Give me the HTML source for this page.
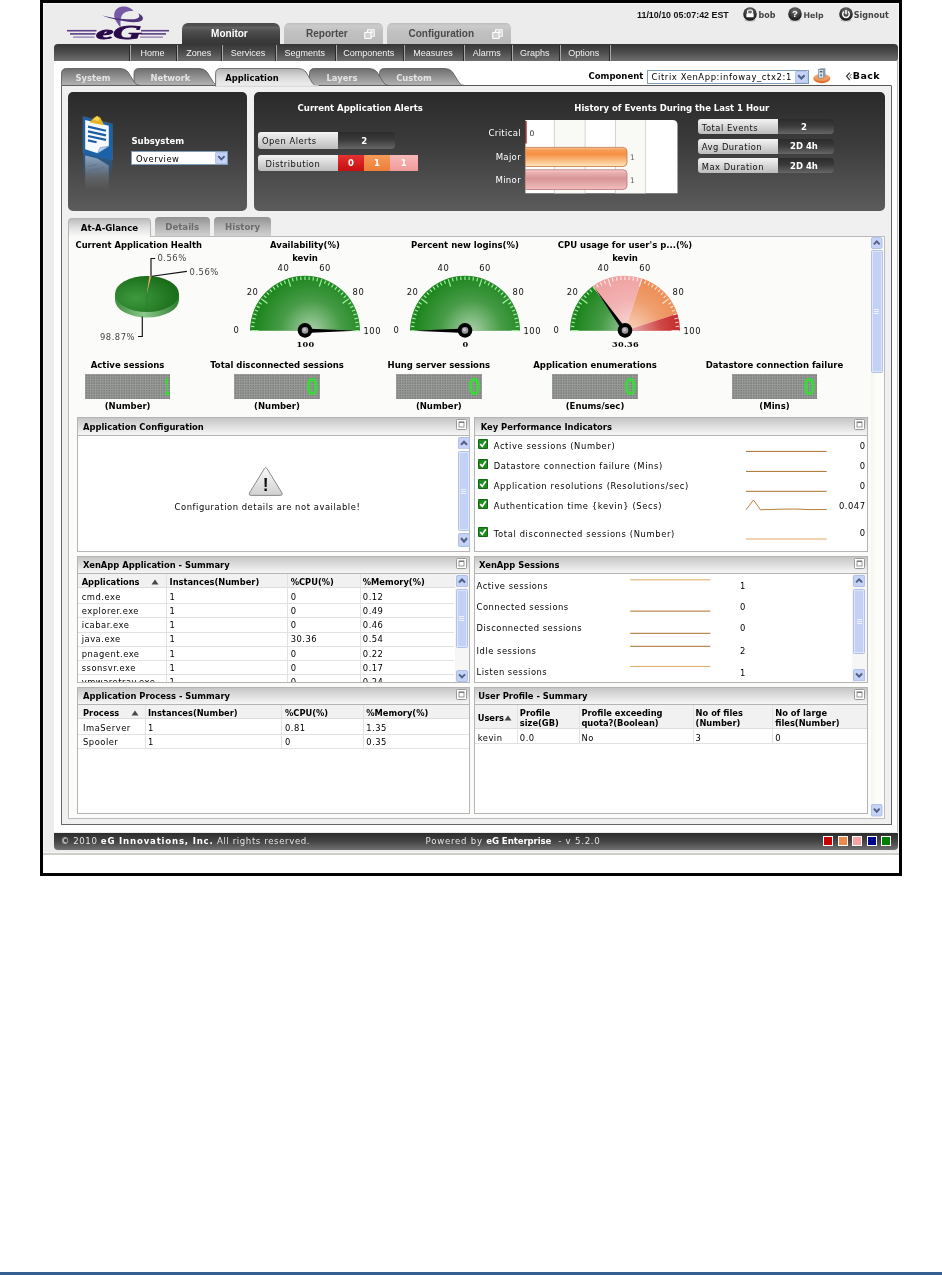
<!DOCTYPE html><html><head><meta charset="utf-8"><title>eG Enterprise</title><style>
html,body{margin:0;padding:0;background:#fff;}
#pg{position:relative;width:942px;height:1275px;overflow:hidden;background:#fff;font-family:"DejaVu Sans","Liberation Sans",sans-serif;font-size:8.4px;color:#000;}
#pg div,#pg span,#pg svg{position:absolute;box-sizing:border-box;}
.t{white-space:nowrap;line-height:12px;height:12px;letter-spacing:.5px;}
.b{white-space:nowrap;line-height:12px;height:12px;font-weight:bold;font-size:8.5px;letter-spacing:0;}
.a{font-family:"Liberation Sans",sans-serif;white-space:nowrap;line-height:12px;height:12px;letter-spacing:0;}
.c{text-align:center;}
.r{text-align:right;}
.ph{background:linear-gradient(#c6c6c6,#dcdcdc 45%,#f6f6f6);border:1px solid #b4b4b4;}
.pb{background:#fff;border:1px solid #b4b4b4;border-top:none;}
.mx{width:10px;height:10px;border:1px solid #888;background:#fff;}
.mx i{position:absolute;left:2px;top:2px;width:4px;height:4px;border:1px solid #999;border-top-width:2px;display:block;}
.sb{background:#c3d1f6;border:1px solid #fff;outline:1px solid #b0bde0;outline-offset:-2px;}
.lbl{background:linear-gradient(#f4f4f4,#d2d2d2 60%,#bcbcbc);border-radius:3px 0 0 3px;}
.val{background:linear-gradient(#2c2c2c,#3a3a3a 45%,#666);border-radius:0 4px 4px 0;color:#fff;}
.led{background-color:#7e7e7e;background-image:linear-gradient(#9c9c9c 1px,transparent 1px),linear-gradient(90deg,#9c9c9c 1px,transparent 1px);background-size:2.5px 2.5px;}
.ledg{background-image:linear-gradient(rgba(150,160,150,.35) 1px,transparent 1px),linear-gradient(90deg,rgba(150,160,150,.35) 1px,transparent 1px);background-size:2.5px 2.5px;}
.dg{font-family:"Liberation Sans",sans-serif;font-weight:bold;color:#22e822;-webkit-text-stroke:.3px #22e822;font-size:23px;line-height:24px;height:24px;width:14px;text-align:center;transform-origin:100% 50%;}
.th{background:#f1f1f1;border-bottom:1px solid #ddd;}
.vl{background:#e2e2e2;width:1px;}
.hl{background:#e2e2e2;height:1px;}
</style></head><body><div id="pg">
<div style="left:40px;top:0px;width:862px;height:876px;border:3px solid #000;background:#fff;"></div>
<div style="left:43px;top:3px;width:856px;height:850px;background:#ececec;border:1px solid #f6f6f6;"></div>
<div style="left:43px;top:853px;width:856px;height:2px;background:#cfcfc6;"></div>
<div style="left:54px;top:50px;width:844px;height:782px;background:#fff;"></div>
<svg style="left:60px;top:2px" width="120" height="42" viewBox="60 2 120 42">
<g fill="none" stroke="#5a3f86" stroke-width="1.6">
<path d="M67,30.7H96.5"/><path d="M70,33.9H95.5"/><path d="M73,37.1H94.5" stroke-width="1.1" stroke="#8068a8"/>
<path d="M141,30.7H169"/><path d="M140.5,33.9H166"/><path d="M140,37.1H163" stroke-width="1.1" stroke="#8068a8"/>
</g>
<path d="M133.4,11 C130.5,6.4 122,5.2 117.4,8.4 C113.2,11.4 113.6,17 116,21 C117.4,23.5 119.2,26 120.7,27.8 C120.3,23.5 120.2,19.6 121.4,16.4 C122.8,12.6 127.2,10.4 133.4,11Z" fill="#7558a6"/>
<path d="M102,15.6 C112,19.3 128,23 137.5,22 C144.5,21.2 145,16.3 138,13.2 C141.2,17 138.5,19 132,19.3 C124,19.6 112,18 102,15.6Z" fill="#4f347a"/>
<text x="96" y="38.8" font-family="Liberation Serif,serif" font-weight="bold" font-style="italic" font-size="19.5" fill="#2b0a4a" stroke="#2b0a4a" stroke-width="0.9" textLength="45.5" lengthAdjust="spacingAndGlyphs">eG</text>
</svg>
<div style="left:181.5px;top:23px;width:98.5px;height:21.5px;background:linear-gradient(#4c4c4c,#505050 12%,#626262 20%,#4c4c4c 40%,#3c3c3c 75%,#363636);border-radius:6px 6px 0 0;"></div>
<div class="a c" style="left:180.2px;top:27.9px;width:98.5px;font-weight:bold;font-size:10px;color:#fff;">Monitor</div>
<div style="left:284px;top:23px;width:99.4px;height:21.5px;background:linear-gradient(#bebebe,#cbcbcb 14%,#c2c2c2 35%,#b9b9b9);border-radius:5px 5px 0 0;"></div>
<div class="a" style="left:306px;top:28px;font-weight:bold;font-size:10px;color:#4a4a4a;">Reporter</div>
<div style="left:387.4px;top:23px;width:123.6px;height:21.5px;background:linear-gradient(#bebebe,#cbcbcb 14%,#c2c2c2 35%,#b9b9b9);border-radius:5px 5px 0 0;"></div>
<div class="a" style="left:408.5px;top:28px;font-weight:bold;font-size:10px;color:#4a4a4a;">Configuration</div>
<svg style="left:363.5px;top:28.5px" width="11" height="11" viewBox="0 0 11 11"><rect x="3.6" y="0.8" width="6.6" height="6.4" fill="#c8c8c8" stroke="#fff" stroke-width="1.1"/><rect x="0.8" y="3.4" width="6.2" height="6" fill="#cfcfcf" stroke="#fff" stroke-width="1.1"/><path d="M5.6,5.2L8.4,2.6M6.4,2.4H8.6V4.6" stroke="#fff" stroke-width=".8" fill="none"/></svg>
<svg style="left:491.5px;top:28.5px" width="11" height="11" viewBox="0 0 11 11"><rect x="3.6" y="0.8" width="6.6" height="6.4" fill="#c8c8c8" stroke="#fff" stroke-width="1.1"/><rect x="0.8" y="3.4" width="6.2" height="6" fill="#cfcfcf" stroke="#fff" stroke-width="1.1"/><path d="M5.6,5.2L8.4,2.6M6.4,2.4H8.6V4.6" stroke="#fff" stroke-width=".8" fill="none"/></svg>
<div style="left:54px;top:44px;width:844px;height:17.4px;background:linear-gradient(#353535,#4a4a4a 45%,#6e6e6e);border-radius:4px 4px 2px 0;"></div>
<div style="left:129px;top:45px;width:1px;height:16px;background:#2a2a2a;"></div>
<div style="left:130px;top:45px;width:1px;height:16px;background:#a8a8a8;"></div>
<div style="left:176px;top:45px;width:1px;height:16px;background:#2a2a2a;"></div>
<div style="left:177px;top:45px;width:1px;height:16px;background:#a8a8a8;"></div>
<div style="left:221px;top:45px;width:1px;height:16px;background:#2a2a2a;"></div>
<div style="left:222px;top:45px;width:1px;height:16px;background:#a8a8a8;"></div>
<div style="left:275px;top:45px;width:1px;height:16px;background:#2a2a2a;"></div>
<div style="left:276px;top:45px;width:1px;height:16px;background:#a8a8a8;"></div>
<div style="left:335px;top:45px;width:1px;height:16px;background:#2a2a2a;"></div>
<div style="left:336px;top:45px;width:1px;height:16px;background:#a8a8a8;"></div>
<div style="left:403px;top:45px;width:1px;height:16px;background:#2a2a2a;"></div>
<div style="left:404px;top:45px;width:1px;height:16px;background:#a8a8a8;"></div>
<div style="left:463px;top:45px;width:1px;height:16px;background:#2a2a2a;"></div>
<div style="left:464px;top:45px;width:1px;height:16px;background:#a8a8a8;"></div>
<div style="left:511px;top:45px;width:1px;height:16px;background:#2a2a2a;"></div>
<div style="left:512px;top:45px;width:1px;height:16px;background:#a8a8a8;"></div>
<div style="left:559px;top:45px;width:1px;height:16px;background:#2a2a2a;"></div>
<div style="left:560px;top:45px;width:1px;height:16px;background:#a8a8a8;"></div>
<div style="left:609px;top:45px;width:1px;height:16px;background:#2a2a2a;"></div>
<div style="left:610px;top:45px;width:1px;height:16px;background:#a8a8a8;"></div>
<div class="a c" style="left:129.1px;top:46.8px;width:46.8px;font-size:9px;color:#f4f4f4;">Home</div>
<div class="a c" style="left:176.9px;top:46.8px;width:43.6px;font-size:9px;color:#f4f4f4;">Zones</div>
<div class="a c" style="left:221.5px;top:46.8px;width:53px;font-size:9px;color:#f4f4f4;">Services</div>
<div class="a c" style="left:275.5px;top:46.8px;width:58.5px;font-size:9px;color:#f4f4f4;">Segments</div>
<div class="a c" style="left:335px;top:46.8px;width:67.5px;font-size:9px;color:#f4f4f4;">Components</div>
<div class="a c" style="left:403.5px;top:46.8px;width:59px;font-size:9px;color:#f4f4f4;">Measures</div>
<div class="a c" style="left:463.5px;top:46.8px;width:46.5px;font-size:9px;color:#f4f4f4;">Alarms</div>
<div class="a c" style="left:511px;top:46.8px;width:47.5px;font-size:9px;color:#f4f4f4;">Graphs</div>
<div class="a c" style="left:559.5px;top:46.8px;width:48.6px;font-size:9px;color:#f4f4f4;">Options</div>
<div class="a" style="left:637px;top:8.5px;font-weight:bold;font-size:8.9px;color:#111;">11/10/10 05:07:42 EST</div>
<svg style="left:742.8px;top:6.5px" width="14" height="15" viewBox="0 0 14 15"><defs><radialGradient id="cguser" cx="50%" cy="30%" r="70%"><stop offset="0" stop-color="#777"/><stop offset="1" stop-color="#111"/></radialGradient></defs><ellipse cx="7" cy="13" rx="5.5" ry="1.5" fill="#bbb"/><circle cx="7" cy="7" r="6.8" fill="url(#cguser)"/><rect x="4.6" y="3" width="4.8" height="4" rx="1.6" fill="none" stroke="#fff" stroke-width="1.2"/><rect x="3.4" y="6.6" width="7.2" height="3.6" fill="#fff"/></svg>
<div class="b" style="left:758.6px;top:9.9px;font-size:8px;color:#444;">bob</div>
<svg style="left:788.3px;top:6.5px" width="14" height="15" viewBox="0 0 14 15"><defs><radialGradient id="cghelp" cx="50%" cy="30%" r="70%"><stop offset="0" stop-color="#777"/><stop offset="1" stop-color="#111"/></radialGradient></defs><ellipse cx="7" cy="13" rx="5.5" ry="1.5" fill="#bbb"/><circle cx="7" cy="7" r="6.8" fill="url(#cghelp)"/><text x="7" y="10.4" text-anchor="middle" font-family="Liberation Sans,sans-serif" font-weight="bold" font-size="9.5" fill="#fff">?</text></svg>
<div class="b" style="left:803.5px;top:9.9px;font-size:7.8px;color:#444;">Help</div>
<svg style="left:838.5px;top:6.5px" width="14" height="15" viewBox="0 0 14 15"><defs><radialGradient id="cgpower" cx="50%" cy="30%" r="70%"><stop offset="0" stop-color="#777"/><stop offset="1" stop-color="#111"/></radialGradient></defs><ellipse cx="7" cy="13" rx="5.5" ry="1.5" fill="#bbb"/><circle cx="7" cy="7" r="6.8" fill="url(#cgpower)"/><path d="M4.9,4.6 A3.3,3.3 0 1 0 9.1,4.6" fill="none" stroke="#fff" stroke-width="1.4"/><path d="M7,3V7.3" stroke="#fff" stroke-width="1.5"/></svg>
<div class="b" style="left:853.8px;top:9.9px;font-size:8px;color:#444;">Signout</div>
<div style="left:62px;top:86px;width:829px;height:738px;background:#f0f0f0;"></div>
<div style="left:897px;top:61px;width:1px;height:771px;background:#b8b8b8;"></div>
<svg style="left:54px;top:62px" width="844" height="30" viewBox="54 62 844 30"><defs><linearGradient id="tg" x1="0" y1="0" x2="0" y2="1"><stop offset="0" stop-color="#6e6e6e"/><stop offset="1" stop-color="#b4b4b4"/></linearGradient><linearGradient id="ta" x1="0" y1="0" x2="0" y2="1"><stop offset="0" stop-color="#b2b2b2"/><stop offset="0.5" stop-color="#dadada"/><stop offset="1" stop-color="#f0f0f0"/></linearGradient></defs><path d="M61.5,85.5H891.5" stroke="#555" stroke-width="1" fill="none"/><path d="M379.5,85.5 L379.5,73.5 Q379.5,68.5 384.5,68.5 L444.5,68.5 Q450.0,68.5 452.5,72.0 L459.0,82.5 Q461.0,85.5 464.5,85.5 Z" fill="url(#tg)" stroke="#555" stroke-width="0.8"/><path d="M309.5,85.5 L309.5,73.5 Q309.5,68.5 314.5,68.5 L369,68.5 Q374.5,68.5 377,72.0 L383.5,82.5 Q385.5,85.5 389,85.5 Z" fill="url(#tg)" stroke="#555" stroke-width="0.8"/><path d="M134,85.5 L134,73.5 Q134,68.5 139,68.5 L199,68.5 Q204.5,68.5 207,72.0 L213.5,82.5 Q215.5,85.5 219,85.5 Z" fill="url(#tg)" stroke="#555" stroke-width="0.8"/><path d="M61.5,85.5 L61.5,73.5 Q61.5,68.5 66.5,68.5 L120,68.5 Q125.5,68.5 128,72.0 L134.5,82.5 Q136.5,85.5 140,85.5 Z" fill="url(#tg)" stroke="#555" stroke-width="0.8"/><path d="M215.6,86.2 L215.6,73.5 Q215.6,68.5 220.6,68.5 L298,68.5 Q303.5,68.5 306,72.0 L312.5,83.2 Q314.5,86.2 318,86.2 Z" fill="url(#ta)" stroke="#666" stroke-width="0.9"/><path d="M216.1,86.1H318.5" stroke="#f0f0f0" stroke-width="1.5"/><text x="93" y="81.1" text-anchor="middle" font-family="DejaVu Sans,sans-serif" font-weight="bold" font-size="8.4" fill="#e4e4e4">System</text><text x="170.4" y="81.1" text-anchor="middle" font-family="DejaVu Sans,sans-serif" font-weight="bold" font-size="8.4" fill="#e4e4e4">Network</text><text x="252" y="81.1" text-anchor="middle" font-family="DejaVu Sans,sans-serif" font-weight="bold" font-size="8.4" fill="#000">Application</text><text x="342" y="81.1" text-anchor="middle" font-family="DejaVu Sans,sans-serif" font-weight="bold" font-size="8.4" fill="#e4e4e4">Layers</text><text x="414" y="81.1" text-anchor="middle" font-family="DejaVu Sans,sans-serif" font-weight="bold" font-size="8.4" fill="#e4e4e4">Custom</text></svg>
<div style="left:61px;top:85.5px;width:1px;height:739.5px;background:#666;"></div>
<div style="left:891px;top:85.5px;width:1px;height:739.5px;background:#666;"></div>
<div style="left:61px;top:824px;width:831px;height:1px;background:#666;"></div>
<div class="b" style="left:588.5px;top:70.3px;font-size:8.5px;color:#000;">Component</div>
<div style="left:647px;top:69.5px;width:161.6px;height:14.2px;background:#fff;border:1px solid #7f9db9;"></div>
<div class="t" style="left:651.5px;top:71.1px;font-size:8.4px;letter-spacing:.62px;width:140.5px;overflow:hidden;">Citrix XenApp:infoway_ctx2:14</div>
<svg style="left:794.8px;top:70.6px" width="12.8" height="12.2" viewBox="0 0 12 12" preserveAspectRatio="none"><rect x="0" y="0" width="12" height="12" rx="1.5" fill="#c6d3f7"/><rect x="0.5" y="0.5" width="11" height="11" rx="1.5" fill="none" stroke="#b4c4ee"/><path d="M3,4.2 L6,7.4 L9,4.2" fill="none" stroke="#4d6185" stroke-width="1.9"/></svg>
<svg style="left:812px;top:66px" width="20" height="19" viewBox="812 66 20 19"><defs><linearGradient id="od" x1="0" y1="0" x2="0" y2="1"><stop offset="0" stop-color="#f4a060"/><stop offset="1" stop-color="#de6a24"/></linearGradient></defs>
<ellipse cx="821.8" cy="78.6" rx="8.5" ry="4.6" fill="url(#od)"/><ellipse cx="821.8" cy="77.6" rx="7.4" ry="3.4" fill="#f2a468" opacity=".7"/>
<path d="M818.6,69.6 L820.4,68.2 L825.4,68.2 L825.4,76.6 L823.6,78 L818.6,78Z" fill="#8a9aa8"/><rect x="818.6" y="69.6" width="5" height="8.4" fill="#d8e0e8" stroke="#68788a" stroke-width=".5"/>
<rect x="819.8" y="71" width="2.6" height="1.4" fill="#4a5a6a"/><rect x="820.2" y="74.4" width="1.8" height="1.8" fill="#3a7ab8"/></svg>
<svg style="left:845px;top:71px" width="8" height="11" viewBox="0 0 8 11"><path d="M4.8,1.6 L1.6,5.3 L4.8,9" fill="none" stroke="#333" stroke-width="1.2"/><path d="M6.6,3 L4.6,5.3 L6.6,7.6" fill="none" stroke="#777" stroke-width="1"/></svg>
<div class="b" style="left:852.8px;top:69.9px;font-size:9.5px;color:#000;letter-spacing:.35px;">Back</div>
<div style="left:68.3px;top:92px;width:179.2px;height:119px;background:linear-gradient(#2a2a2a,#3c3c3c 45%,#5c5c5c);border-radius:5px;"></div>
<div style="left:253.8px;top:92px;width:631px;height:119px;background:linear-gradient(#2a2a2a,#3c3c3c 45%,#5c5c5c);border-radius:5px;"></div>
<svg style="left:78px;top:110px" width="40" height="84" viewBox="78 110 40 84">
<defs><linearGradient id="rf" x1="0" y1="0" x2="0" y2="1"><stop offset="0" stop-color="#b4c0d0" stop-opacity=".75"/><stop offset=".55" stop-color="#a0acbc" stop-opacity=".3"/><stop offset="1" stop-color="#9aa6b6" stop-opacity="0"/></linearGradient>
<linearGradient id="rb" x1="0" y1="0" x2="0" y2="1"><stop offset="0" stop-color="#1c62a8" stop-opacity=".9"/><stop offset="1" stop-color="#1c62a8" stop-opacity="0"/></linearGradient></defs>
<path d="M82.6,116 L112.8,123.6 L112.8,160.5 L82.6,152.8Z" fill="#5aa0e0" opacity=".35"/>
<path d="M83.4,116.8 L112.2,124.2 L112.2,160 L83.4,152.4Z" fill="#1c62a8"/>
<path d="M85.2,120 L108.8,125.8 L108.8,146.2 L97.5,153.2 L85.2,149.2Z" fill="#f6f9ff"/>
<path d="M97.5,153.2 L100.2,147.6 L108.8,146.2Z" fill="#bcd0e8" stroke="#4a86c4" stroke-width=".5"/>
<path d="M89.6,122.4 L93.6,118 L97,115.8 L100.2,117.6 L104.2,125.2Z" fill="#e9b424"/><path d="M93.5,119.5 L97,116.5 L99.6,118.6 L98,121Z" fill="#f8d858"/>
<g stroke="#1c5ea4" stroke-width="2.2"><path d="M88,126.6L106,130.8"/><path d="M88,131.4L106,135.4"/><path d="M88,136L106,139.9"/><path d="M88,140.4L96.6,142.3"/></g>
<path d="M83.4,152.4 L112.2,160 L112.2,178 L83.4,178Z" fill="url(#rb)"/>
<path d="M85.2,155.5 L97.5,158.6 L108.8,165.5 L108.8,190 L85.2,190Z" fill="url(#rf)"/>
<g stroke="#5a7088" stroke-width="1.6" opacity=".45"><path d="M88,166.4L96.6,164.6"/><path d="M88,170.6L104,167.6"/></g>
</svg>
<div class="b" style="left:131.5px;top:135px;color:#fff;font-size:8.5px;">Subsystem</div>
<div style="left:131px;top:150.7px;width:97.3px;height:14.3px;background:#fff;border:1px solid #7f9db9;"></div>
<div class="t" style="left:136px;top:152.6px;font-size:8.4px;">Overview</div>
<svg style="left:214.5px;top:151.8px" width="12.8" height="12" viewBox="0 0 12 12" preserveAspectRatio="none"><rect x="0" y="0" width="12" height="12" rx="1.5" fill="#c6d3f7"/><rect x="0.5" y="0.5" width="11" height="11" rx="1.5" fill="none" stroke="#b4c4ee"/><path d="M3,4.2 L6,7.4 L9,4.2" fill="none" stroke="#4d6185" stroke-width="1.9"/></svg>
<div class="b" style="left:297.6px;top:102px;color:#fff;">Current Application Alerts</div>
<div class="b" style="left:574.3px;top:102px;color:#fff;">History of Events During the Last 1 Hour</div>
<div class="lbl" style="left:257.6px;top:132px;width:80.4px;height:16.7px;"></div>
<div class="val" style="left:338px;top:132px;width:56.5px;height:16.7px;"></div>
<div class="t" style="left:262px;top:135.25px;color:#111;font-size:8.35px;">Open Alerts</div>
<div class="b c" style="left:338px;top:134.65px;width:52.5px;color:#fff;">2</div>
<div class="lbl" style="left:257.6px;top:155px;width:80.4px;height:16px;"></div>
<div class="val" style="left:338px;top:155px;width:0px;height:16px;"></div>
<div class="t" style="left:265.5px;top:157.9px;color:#111;font-size:8.35px;">Distribution</div>
<div style="left:338px;top:155px;width:26px;height:16px;background:linear-gradient(#e83030,#c41010);"></div>
<div class="b c" style="left:338px;top:157.3px;width:26px;color:#fff;">0</div>
<div style="left:364px;top:155px;width:26px;height:16px;background:linear-gradient(#f59a5a,#ec7f38);"></div>
<div class="b c" style="left:364px;top:157.3px;width:26px;color:#fff;">1</div>
<div style="left:390px;top:155px;width:27.6px;height:16px;background:linear-gradient(#f8b8b8,#f09a9a);"></div>
<div class="b c" style="left:390px;top:157.3px;width:27.6px;color:#fff;">1</div>
<div class="lbl" style="left:697.5px;top:119px;width:80.8px;height:15.3px;"></div>
<div class="val" style="left:778.3px;top:119px;width:55.3px;height:15.3px;"></div>
<div class="t" style="left:701.8px;top:121.55px;color:#111;font-size:8.35px;">Total Events</div>
<div class="b c" style="left:778.3px;top:120.95px;width:51.3px;color:#fff;">2</div>
<div class="lbl" style="left:697.5px;top:138.5px;width:80.8px;height:15.3px;"></div>
<div class="val" style="left:778.3px;top:138.5px;width:55.3px;height:15.3px;"></div>
<div class="t" style="left:701.8px;top:141.05px;color:#111;font-size:8.35px;">Avg Duration</div>
<div class="b c" style="left:778.3px;top:140.45px;width:51.3px;color:#fff;">2D 4h</div>
<div class="lbl" style="left:697.5px;top:158px;width:80.8px;height:15.3px;"></div>
<div class="val" style="left:778.3px;top:158px;width:55.3px;height:15.3px;"></div>
<div class="t" style="left:701.8px;top:160.55px;color:#111;font-size:8.35px;">Max Duration</div>
<div class="b c" style="left:778.3px;top:159.95px;width:51.3px;color:#fff;">2D 4h</div>
<svg style="left:486px;top:118px" width="196" height="78" viewBox="486 118 196 78">
<defs><linearGradient id="og" x1="0" y1="0" x2="0" y2="1"><stop offset="0" stop-color="#f8c69c"/><stop offset=".14" stop-color="#f79c54"/><stop offset=".36" stop-color="#f69044"/><stop offset="1" stop-color="#fee6bc"/></linearGradient>
<linearGradient id="pk" x1="0" y1="0" x2="0" y2="1"><stop offset="0" stop-color="#f6cece"/><stop offset=".16" stop-color="#e8aeae"/><stop offset=".45" stop-color="#d99696"/><stop offset="1" stop-color="#f2bebe"/></linearGradient></defs>
<path d="M525.4,120 H672.5 Q677.5,120 677.5,125 V193.3 H525.4Z" fill="#fff"/>
<rect x="554.4" y="120" width="30.8" height="73.3" fill="#f9f9f5"/><rect x="615.5" y="120" width="30.1" height="73.3" fill="#f9f9f5"/>
<g stroke="#c9c9c4" stroke-width="0.8"><path d="M554.4,120V193.3"/><path d="M585.2,120V193.3"/><path d="M615.5,120V193.3"/><path d="M645.6,120V193.3"/></g>
<path d="M525.9,121V143.5" stroke="#8c1010" stroke-width="1.4"/>
<path d="M525.4,147.4 H623 Q627,147.4 627,151.4 V162.5 Q627,166.5 623,166.5 H525.4Z" fill="url(#og)" stroke="#c88458" stroke-width=".9"/>
<path d="M525.4,169.8 H623 Q627,169.8 627,173.8 V185.5 Q627,189.5 623,189.5 H525.4Z" fill="url(#pk)" stroke="#c08080" stroke-width=".9"/>
<g font-family="DejaVu Sans,sans-serif" font-size="8.6" letter-spacing=".3">
<text x="521" y="136.2" text-anchor="end" fill="#fff">Critical</text><text x="521" y="160" text-anchor="end" fill="#fff">Major</text><text x="521" y="183.2" text-anchor="end" fill="#fff">Minor</text>
<text x="529.5" y="136" fill="#333" font-size="7.6">0</text><text x="630" y="160" fill="#666" font-size="7.6">1</text><text x="630" y="183" fill="#666" font-size="7.6">1</text></g>
</svg>
<div style="left:68.3px;top:235.5px;width:816.3px;height:583.3px;background:#fbfbf9;border:1px solid #bcbcbc;"></div>
<div style="left:68.3px;top:218px;width:82.3px;height:18.5px;background:linear-gradient(#bdbdbd,#dedede 45%,#fbfbf9);border:1px solid #b4b4b4;border-bottom:none;border-radius:4px 4px 0 0;"></div>
<div class="b c" style="left:68.3px;top:221.5px;width:82.3px;color:#000;font-size:8.6px;">At-A-Glance</div>
<div style="left:154.5px;top:217px;width:55.5px;height:18.5px;background:linear-gradient(#929292,#b4b4b4 50%,#d0d0d0);border-radius:4px 4px 0 0;"></div>
<div class="b c" style="left:154.5px;top:220.8px;width:55.5px;color:#6c6c6c;font-size:8.6px;">Details</div>
<div style="left:214.3px;top:217px;width:56.7px;height:18.5px;background:linear-gradient(#929292,#b4b4b4 50%,#d0d0d0);border-radius:4px 4px 0 0;"></div>
<div class="b c" style="left:214.3px;top:220.8px;width:56.7px;color:#6c6c6c;font-size:8.6px;">History</div>
<div style="left:870.5px;top:236.5px;width:13px;height:581.5px;background:linear-gradient(90deg,#f6f6f0,#fcfcf8 40%,#fdfdfb);"></div>
<svg style="left:871px;top:237.3px" width="11.5" height="12" viewBox="0 0 12 12" preserveAspectRatio="none"><rect x="0.5" y="0.5" width="11" height="11" rx="1.5" fill="#c6d3f7" stroke="#b0bfe8"/><path d="M3,7.4 L6,4.4 L9,7.4" fill="none" stroke="#4d6185" stroke-width="2"/></svg>
<div style="left:871px;top:250px;width:11.5px;height:123px;background:#c3d1f6;border:1px solid #b2c0ea;border-radius:1.5px;box-shadow:inset 0 0 0 1px rgba(255,255,255,.45);"></div>
<div style="left:874.25px;top:309px;width:5px;height:1px;background:#eef2ff;"></div>
<div style="left:874.25px;top:311px;width:5px;height:1px;background:#eef2ff;"></div>
<div style="left:874.25px;top:313px;width:5px;height:1px;background:#eef2ff;"></div>
<svg style="left:871px;top:804px" width="11.5" height="12.6" viewBox="0 0 12 12" preserveAspectRatio="none"><rect x="0.5" y="0.5" width="11" height="11" rx="1.5" fill="#c6d3f7" stroke="#b0bfe8"/><path d="M3,4.4 L6,7.4 L9,4.4" fill="none" stroke="#4d6185" stroke-width="2"/></svg>
<div class="b" style="left:75.5px;top:239px;font-size:8.4px;">Current Application Health</div>
<svg style="left:95px;top:252px" width="130" height="92" viewBox="95 252 130 92">
<defs><radialGradient id="pg1" cx="32%" cy="62%" r="75%"><stop offset="0" stop-color="#3e9a3e"/><stop offset="1" stop-color="#156815"/></radialGradient>
<linearGradient id="pg2" x1="0" y1="0" x2="1" y2="0"><stop offset="0" stop-color="#3f8f3f"/><stop offset=".45" stop-color="#8cc88c"/><stop offset="1" stop-color="#2f7f2f"/></linearGradient></defs>
<path d="M115,294 V300 A32,17.5 0 0 0 179,300 V294Z" fill="url(#pg2)"/>
<ellipse cx="147" cy="294" rx="32" ry="18" fill="url(#pg1)"/>
<path d="M146.8,294 L149.3,276.1 L151.2,276.3Z" fill="#f0a868"/>
<path d="M147,294 L146.6,312" stroke="#2a7a2a" stroke-width=".6"/>
<g fill="none" stroke="#111" stroke-width="1.15"><path d="M151,276.3 V258.5 H155.2"/><path d="M152,276.3 L186.8,271.4"/><path d="M142.3,316.5 V336.5 H138"/></g>
<g font-family="DejaVu Sans,sans-serif" font-size="8.4" fill="#444" letter-spacing=".5"><text x="157.5" y="261">0.56%</text><text x="189.6" y="274.8">0.56%</text><text x="100" y="339.7">98.87%</text></g>
</svg>
<svg style="left:225.39999999999998px;top:238px" width="160" height="114" viewBox="225.39999999999998 238 160 114"><defs><radialGradient id="gg305" gradientUnits="userSpaceOnUse" cx="311.4" cy="330.7" r="55"><stop offset="0" stop-color="#fff" stop-opacity=".62"/><stop offset=".55" stop-color="#fff" stop-opacity=".18"/><stop offset="1" stop-color="#fff" stop-opacity="0"/></radialGradient></defs><path d="M305.4,330.7 L250.40,330.70 A55,55 0 0 1 360.40,330.70Z" fill="#1f861f"/><path d="M250.39999999999998,330.7 A55,55 0 0 1 360.4,330.7Z" fill="url(#gg305)"/><path d="M258.90,330.70L251.20,330.70M254.76,326.71L251.37,326.45M255.23,322.75L251.87,322.22M256.00,318.84L252.70,318.05M257.09,315.00L253.85,313.95M258.47,311.26L255.33,309.96M260.14,307.64L257.11,306.09M262.09,304.16L259.19,302.38M267.78,303.37L261.55,298.84M266.77,297.71L264.19,295.50M269.48,294.78L267.07,292.37M272.41,292.07L270.20,289.49M275.54,289.60L273.54,286.85M278.86,287.39L277.08,284.49M282.34,285.44L280.79,282.41M285.96,283.77L284.66,280.63M291.03,286.48L288.65,279.15M293.54,281.30L292.75,278.00M297.45,280.53L296.92,277.17M301.41,280.06L301.15,276.67M305.40,279.90L305.40,276.50M309.39,280.06L309.65,276.67M313.35,280.53L313.88,277.17M317.26,281.30L318.05,278.00M319.77,286.48L322.15,279.15M324.84,283.77L326.14,280.63M328.46,285.44L330.01,282.41M331.94,287.39L333.72,284.49M335.26,289.60L337.26,286.85M338.39,292.07L340.60,289.49M341.32,294.78L343.73,292.37M344.03,297.71L346.61,295.50M343.02,303.37L349.25,298.84M348.71,304.16L351.61,302.38M350.66,307.64L353.69,306.09M352.33,311.26L355.47,309.96M353.71,315.00L356.95,313.95M354.80,318.84L358.10,318.05M355.57,322.75L358.93,322.22M356.04,326.71L359.43,326.45M351.90,330.70L359.60,330.70" stroke="#a0f0a0" stroke-width="1.25" stroke-opacity=".95" fill="none"/><path d="M305.40,332.90 L357.40,330.70 L305.40,328.50Z" fill="#000"/><circle cx="305.4" cy="330.4" r="7.3" fill="#000"/><circle cx="305.4" cy="330.4" r="3.3" fill="#9a9a9a"/><circle cx="304.79999999999995" cy="329.7" r="1.6" fill="#c4c4c4"/><g font-family="DejaVu Sans,sans-serif" font-size="8.4" fill="#111" letter-spacing=".5"><text x="233.99999999999997" y="333" >0</text><text x="247.09999999999997" y="295.2">20</text><text x="278.0" y="271">40</text><text x="319.7" y="271">60</text><text x="353.0" y="295.2">80</text><text x="363.9" y="333.6">100</text></g><g font-family="DejaVu Sans,sans-serif" font-weight="bold" font-size="8.5" fill="#000" text-anchor="middle"><text x="305.4" y="248.2">Availability(%)</text><text x="305.4" y="260.8">kevin</text></g><text x="305.9" y="347" text-anchor="middle" font-family="DejaVu Serif,Liberation Serif,serif" font-weight="bold" font-size="8.2" fill="#000" letter-spacing=".3">100</text></svg>
<svg style="left:385.4px;top:238px" width="160" height="114" viewBox="385.4 238 160 114"><defs><radialGradient id="gg465" gradientUnits="userSpaceOnUse" cx="471.4" cy="330.7" r="55"><stop offset="0" stop-color="#fff" stop-opacity=".62"/><stop offset=".55" stop-color="#fff" stop-opacity=".18"/><stop offset="1" stop-color="#fff" stop-opacity="0"/></radialGradient></defs><path d="M465.4,330.7 L410.40,330.70 A55,55 0 0 1 520.40,330.70Z" fill="#1f861f"/><path d="M410.4,330.7 A55,55 0 0 1 520.4,330.7Z" fill="url(#gg465)"/><path d="M418.90,330.70L411.20,330.70M414.76,326.71L411.37,326.45M415.23,322.75L411.87,322.22M416.00,318.84L412.70,318.05M417.09,315.00L413.85,313.95M418.47,311.26L415.33,309.96M420.14,307.64L417.11,306.09M422.09,304.16L419.19,302.38M427.78,303.37L421.55,298.84M426.77,297.71L424.19,295.50M429.48,294.78L427.07,292.37M432.41,292.07L430.20,289.49M435.54,289.60L433.54,286.85M438.86,287.39L437.08,284.49M442.34,285.44L440.79,282.41M445.96,283.77L444.66,280.63M451.03,286.48L448.65,279.15M453.54,281.30L452.75,278.00M457.45,280.53L456.92,277.17M461.41,280.06L461.15,276.67M465.40,279.90L465.40,276.50M469.39,280.06L469.65,276.67M473.35,280.53L473.88,277.17M477.26,281.30L478.05,278.00M479.77,286.48L482.15,279.15M484.84,283.77L486.14,280.63M488.46,285.44L490.01,282.41M491.94,287.39L493.72,284.49M495.26,289.60L497.26,286.85M498.39,292.07L500.60,289.49M501.32,294.78L503.73,292.37M504.03,297.71L506.61,295.50M503.02,303.37L509.25,298.84M508.71,304.16L511.61,302.38M510.66,307.64L513.69,306.09M512.33,311.26L515.47,309.96M513.71,315.00L516.95,313.95M514.80,318.84L518.10,318.05M515.57,322.75L518.93,322.22M516.04,326.71L519.43,326.45M511.90,330.70L519.60,330.70" stroke="#a0f0a0" stroke-width="1.25" stroke-opacity=".95" fill="none"/><path d="M465.40,328.50 L413.40,330.70 L465.40,332.90Z" fill="#000"/><circle cx="465.4" cy="330.4" r="7.3" fill="#000"/><circle cx="465.4" cy="330.4" r="3.3" fill="#9a9a9a"/><circle cx="464.79999999999995" cy="329.7" r="1.6" fill="#c4c4c4"/><g font-family="DejaVu Sans,sans-serif" font-size="8.4" fill="#111" letter-spacing=".5"><text x="394.0" y="333" >0</text><text x="407.09999999999997" y="295.2">20</text><text x="438.0" y="271">40</text><text x="479.7" y="271">60</text><text x="513.0" y="295.2">80</text><text x="523.9" y="333.6">100</text></g><g font-family="DejaVu Sans,sans-serif" font-weight="bold" font-size="8.5" fill="#000" text-anchor="middle"><text x="465.4" y="248.2">Percent new logins(%)</text></g><text x="465.9" y="347" text-anchor="middle" font-family="DejaVu Serif,Liberation Serif,serif" font-weight="bold" font-size="8.2" fill="#000" letter-spacing=".3">0</text></svg>
<svg style="left:545.4px;top:238px" width="160" height="114" viewBox="545.4 238 160 114"><defs><radialGradient id="gg625" gradientUnits="userSpaceOnUse" cx="631.4" cy="330.7" r="55"><stop offset="0" stop-color="#fff" stop-opacity=".62"/><stop offset=".55" stop-color="#fff" stop-opacity=".18"/><stop offset="1" stop-color="#fff" stop-opacity="0"/></radialGradient></defs><path d="M625.4,330.7 L570.40,330.70 A55,55 0 0 1 593.07,286.20Z" fill="#1f861f"/><path d="M625.4,330.7 L593.07,286.20 A55,55 0 0 1 642.40,278.39Z" fill="#f0a2a2"/><path d="M625.4,330.7 L642.40,278.39 A55,55 0 0 1 677.71,313.70Z" fill="#ec8a50"/><path d="M625.4,330.7 L677.71,313.70 A55,55 0 0 1 680.40,330.70Z" fill="#c42020"/><path d="M570.4,330.7 A55,55 0 0 1 680.4,330.7Z" fill="url(#gg625)"/><path d="M578.90,330.70L571.20,330.70M574.76,326.71L571.37,326.45M575.23,322.75L571.87,322.22M576.00,318.84L572.70,318.05M577.09,315.00L573.85,313.95M578.47,311.26L575.33,309.96M580.14,307.64L577.11,306.09M582.09,304.16L579.19,302.38M587.78,303.37L581.55,298.84M586.77,297.71L584.19,295.50M589.48,294.78L587.07,292.37M592.41,292.07L590.20,289.49M595.54,289.60L593.54,286.85" stroke="#a0f0a0" stroke-width="1.25" stroke-opacity=".95" fill="none"/><path d="M598.86,287.39L597.08,284.49M602.34,285.44L600.79,282.41M605.96,283.77L604.66,280.63M611.03,286.48L608.65,279.15M613.54,281.30L612.75,278.00M617.45,280.53L616.92,277.17M621.41,280.06L621.15,276.67M625.40,279.90L625.40,276.50M629.39,280.06L629.65,276.67M633.35,280.53L633.88,277.17M637.26,281.30L638.05,278.00M639.77,286.48L642.15,279.15M644.84,283.77L646.14,280.63M648.46,285.44L650.01,282.41M651.94,287.39L653.72,284.49M655.26,289.60L657.26,286.85M658.39,292.07L660.60,289.49M661.32,294.78L663.73,292.37M664.03,297.71L666.61,295.50M663.02,303.37L669.25,298.84M668.71,304.16L671.61,302.38M670.66,307.64L673.69,306.09M672.33,311.26L675.47,309.96M673.71,315.00L676.95,313.95M674.80,318.84L678.10,318.05M675.57,322.75L678.93,322.22M676.04,326.71L679.43,326.45M671.90,330.70L679.60,330.70" stroke="#fff" stroke-width="1.25" stroke-opacity=".7" fill="none"/><path d="M627.19,329.43 L595.31,288.29 L623.61,331.97Z" fill="#000"/><circle cx="625.4" cy="330.4" r="7.3" fill="#000"/><circle cx="625.4" cy="330.4" r="3.3" fill="#9a9a9a"/><circle cx="624.8" cy="329.7" r="1.6" fill="#c4c4c4"/><g font-family="DejaVu Sans,sans-serif" font-size="8.4" fill="#111" letter-spacing=".5"><text x="554.0" y="333" >0</text><text x="567.1" y="295.2">20</text><text x="598.0" y="271">40</text><text x="639.6999999999999" y="271">60</text><text x="673.0" y="295.2">80</text><text x="683.9" y="333.6">100</text></g><g font-family="DejaVu Sans,sans-serif" font-weight="bold" font-size="8.5" fill="#000" text-anchor="middle"><text x="625.4" y="248.2">CPU usage for user's p...(%)</text><text x="625.4" y="260.8">kevin</text></g><text x="625.9" y="347" text-anchor="middle" font-family="DejaVu Serif,Liberation Serif,serif" font-weight="bold" font-size="8.2" fill="#000" letter-spacing=".3">30.36</text></svg>
<div class="b c" style="left:27.6px;top:358.7px;width:200px;">Active sessions</div>
<div class="led" style="left:84.8px;top:374.3px;width:85.7px;height:24.4px;"></div>
<div class="dg" style="left:155.5px;top:375.1px;transform:scaleX(0.42);">1</div>
<div class="ledg" style="left:84.8px;top:374.3px;width:85.7px;height:24.4px;"></div>
<div class="b c" style="left:67.6px;top:399.5px;width:120px;">(Number)</div>
<div class="b c" style="left:177px;top:358.7px;width:200px;">Total disconnected sessions</div>
<div class="led" style="left:233.6px;top:374.3px;width:86.1px;height:24.4px;"></div>
<div class="dg" style="left:304.7px;top:375.1px;transform:scaleX(0.95);">0</div>
<div class="ledg" style="left:233.6px;top:374.3px;width:86.1px;height:24.4px;"></div>
<div class="b c" style="left:217px;top:399.5px;width:120px;">(Number)</div>
<div class="b c" style="left:338.8px;top:358.7px;width:200px;">Hung server sessions</div>
<div class="led" style="left:395.7px;top:374.3px;width:86.3px;height:24.4px;"></div>
<div class="dg" style="left:467px;top:375.1px;transform:scaleX(0.95);">0</div>
<div class="ledg" style="left:395.7px;top:374.3px;width:86.3px;height:24.4px;"></div>
<div class="b c" style="left:378.8px;top:399.5px;width:120px;">(Number)</div>
<div class="b c" style="left:495px;top:358.7px;width:200px;">Application enumerations</div>
<div class="led" style="left:551.7px;top:374.3px;width:86px;height:24.4px;"></div>
<div class="dg" style="left:622.7px;top:375.1px;transform:scaleX(0.95);">0</div>
<div class="ledg" style="left:551.7px;top:374.3px;width:86px;height:24.4px;"></div>
<div class="b c" style="left:535px;top:399.5px;width:120px;">(Enums/sec)</div>
<div class="b c" style="left:674.5px;top:358.7px;width:200px;">Datastore connection failure</div>
<div class="led" style="left:731.7px;top:374.3px;width:85.1px;height:24.4px;"></div>
<div class="dg" style="left:801.8px;top:375.1px;transform:scaleX(0.95);">0</div>
<div class="ledg" style="left:731.7px;top:374.3px;width:85.1px;height:24.4px;"></div>
<div class="b c" style="left:714.5px;top:399.5px;width:120px;">(Mins)</div>
<div class="ph" style="left:77px;top:417px;width:393px;height:19px;"></div>
<div class="pb" style="left:77px;top:436px;width:393px;height:116px;"></div>
<div class="b" style="left:83px;top:420.8px;font-size:8.4px;">Application Configuration</div>
<svg style="left:456px;top:419.4px" width="11" height="11" viewBox="0 0 11 11"><rect x="0.5" y="0.5" width="10" height="10" rx="1" fill="#fff" stroke="#999"/><rect x="3" y="3" width="5" height="5" fill="#fff" stroke="#8a8a8a" stroke-width=".9"/><path d="M3,3.3H8" stroke="#777" stroke-width="1.2"/></svg>
<div class="ph" style="left:474px;top:417px;width:394px;height:19px;"></div>
<div class="pb" style="left:474px;top:436px;width:394px;height:116px;"></div>
<div class="b" style="left:480.7px;top:420.8px;font-size:8.4px;">Key Performance Indicators</div>
<svg style="left:854px;top:419.4px" width="11" height="11" viewBox="0 0 11 11"><rect x="0.5" y="0.5" width="10" height="10" rx="1" fill="#fff" stroke="#999"/><rect x="3" y="3" width="5" height="5" fill="#fff" stroke="#8a8a8a" stroke-width=".9"/><path d="M3,3.3H8" stroke="#777" stroke-width="1.2"/></svg>
<div class="ph" style="left:77px;top:556px;width:393px;height:18px;"></div>
<div class="pb" style="left:77px;top:574px;width:393px;height:109px;"></div>
<div class="b" style="left:83px;top:559.3px;font-size:8.4px;">XenApp Application - Summary</div>
<svg style="left:456px;top:558.4px" width="11" height="11" viewBox="0 0 11 11"><rect x="0.5" y="0.5" width="10" height="10" rx="1" fill="#fff" stroke="#999"/><rect x="3" y="3" width="5" height="5" fill="#fff" stroke="#8a8a8a" stroke-width=".9"/><path d="M3,3.3H8" stroke="#777" stroke-width="1.2"/></svg>
<div class="ph" style="left:474px;top:556px;width:394px;height:18px;"></div>
<div class="pb" style="left:474px;top:574px;width:394px;height:109px;"></div>
<div class="b" style="left:479px;top:559.3px;font-size:8.4px;">XenApp Sessions</div>
<svg style="left:854px;top:558.4px" width="11" height="11" viewBox="0 0 11 11"><rect x="0.5" y="0.5" width="10" height="10" rx="1" fill="#fff" stroke="#999"/><rect x="3" y="3" width="5" height="5" fill="#fff" stroke="#8a8a8a" stroke-width=".9"/><path d="M3,3.3H8" stroke="#777" stroke-width="1.2"/></svg>
<div class="ph" style="left:77px;top:687px;width:393px;height:18px;"></div>
<div class="pb" style="left:77px;top:705px;width:393px;height:109px;"></div>
<div class="b" style="left:83px;top:690.3px;font-size:8.4px;">Application Process - Summary</div>
<svg style="left:456px;top:689.4px" width="11" height="11" viewBox="0 0 11 11"><rect x="0.5" y="0.5" width="10" height="10" rx="1" fill="#fff" stroke="#999"/><rect x="3" y="3" width="5" height="5" fill="#fff" stroke="#8a8a8a" stroke-width=".9"/><path d="M3,3.3H8" stroke="#777" stroke-width="1.2"/></svg>
<div class="ph" style="left:474px;top:687px;width:394px;height:18px;"></div>
<div class="pb" style="left:474px;top:705px;width:394px;height:109px;"></div>
<div class="b" style="left:478.2px;top:690.3px;font-size:8.4px;">User Profile - Summary</div>
<svg style="left:854px;top:689.4px" width="11" height="11" viewBox="0 0 11 11"><rect x="0.5" y="0.5" width="10" height="10" rx="1" fill="#fff" stroke="#999"/><rect x="3" y="3" width="5" height="5" fill="#fff" stroke="#8a8a8a" stroke-width=".9"/><path d="M3,3.3H8" stroke="#777" stroke-width="1.2"/></svg>
<svg style="left:247px;top:465px" width="38" height="33" viewBox="247 465 38 33"><defs><linearGradient id="wg" x1="0" y1="0" x2="0" y2="1"><stop offset="0" stop-color="#fafafa"/><stop offset="1" stop-color="#d0d0d0"/></linearGradient></defs>
<path d="M264.4,468.6 Q265.7,466.6 267,468.6 L282,493 Q283,495.4 280.4,495.4 L251,495.4 Q248.4,495.4 249.4,493Z" fill="url(#wg)" stroke="#8a8a8a" stroke-width="1" stroke-linejoin="round"/>
<text x="265.7" y="490.9" text-anchor="middle" font-family="Liberation Sans,sans-serif" font-weight="bold" font-size="17.5" fill="#111">!</text></svg>
<div class="t" style="left:174.6px;top:500.9px;letter-spacing:.55px;">Configuration details are not available!</div>
<svg style="left:457.6px;top:436.8px" width="12" height="12.7" viewBox="0 0 12 12" preserveAspectRatio="none"><rect x="0.5" y="0.5" width="11" height="11" rx="1.5" fill="#c6d3f7" stroke="#b0bfe8"/><path d="M3,7.4 L6,4.4 L9,7.4" fill="none" stroke="#4d6185" stroke-width="2"/></svg>
<div style="left:457.6px;top:450.8px;width:12px;height:80.4px;background:#c3d1f6;border:1px solid #b2c0ea;border-radius:1.5px;box-shadow:inset 0 0 0 1px rgba(255,255,255,.45);"></div>
<div style="left:461.1px;top:488.5px;width:5px;height:1px;background:#eef2ff;"></div>
<div style="left:461.1px;top:490.5px;width:5px;height:1px;background:#eef2ff;"></div>
<div style="left:461.1px;top:492.5px;width:5px;height:1px;background:#eef2ff;"></div>
<svg style="left:457.6px;top:533px" width="12" height="14" viewBox="0 0 12 12" preserveAspectRatio="none"><rect x="0.5" y="0.5" width="11" height="11" rx="1.5" fill="#c6d3f7" stroke="#b0bfe8"/><path d="M3,4.4 L6,7.4 L9,4.4" fill="none" stroke="#4d6185" stroke-width="2"/></svg>
<svg style="left:477.9px;top:439px" width="10" height="10" viewBox="0 0 10 10"><rect x="0" y="0" width="10" height="10" rx="1" fill="#1f8a1f"/><rect x="0.5" y="0.5" width="9" height="9" rx="1" fill="none" stroke="#0e5e0e" stroke-width=".8"/><path d="M2.2,5 L4.2,7.4 L7.8,2.2" fill="none" stroke="#fff" stroke-width="1.7"/></svg>
<div class="t" style="left:493.7px;top:439.8px;letter-spacing:.62px;">Active sessions (Number)</div>
<div class="t r" style="left:820px;top:440px;width:45.5px;">0</div>
<svg style="left:477.9px;top:459px" width="10" height="10" viewBox="0 0 10 10"><rect x="0" y="0" width="10" height="10" rx="1" fill="#1f8a1f"/><rect x="0.5" y="0.5" width="9" height="9" rx="1" fill="none" stroke="#0e5e0e" stroke-width=".8"/><path d="M2.2,5 L4.2,7.4 L7.8,2.2" fill="none" stroke="#fff" stroke-width="1.7"/></svg>
<div class="t" style="left:493.7px;top:459.8px;letter-spacing:.62px;">Datastore connection failure (Mins)</div>
<div class="t r" style="left:820px;top:459.9px;width:45.5px;">0</div>
<svg style="left:477.9px;top:479.4px" width="10" height="10" viewBox="0 0 10 10"><rect x="0" y="0" width="10" height="10" rx="1" fill="#1f8a1f"/><rect x="0.5" y="0.5" width="9" height="9" rx="1" fill="none" stroke="#0e5e0e" stroke-width=".8"/><path d="M2.2,5 L4.2,7.4 L7.8,2.2" fill="none" stroke="#fff" stroke-width="1.7"/></svg>
<div class="t" style="left:493.7px;top:480.2px;letter-spacing:.62px;">Application resolutions (Resolutions/sec)</div>
<div class="t r" style="left:820px;top:479.9px;width:45.5px;">0</div>
<svg style="left:477.9px;top:499.3px" width="10" height="10" viewBox="0 0 10 10"><rect x="0" y="0" width="10" height="10" rx="1" fill="#1f8a1f"/><rect x="0.5" y="0.5" width="9" height="9" rx="1" fill="none" stroke="#0e5e0e" stroke-width=".8"/><path d="M2.2,5 L4.2,7.4 L7.8,2.2" fill="none" stroke="#fff" stroke-width="1.7"/></svg>
<div class="t" style="left:493.7px;top:500.1px;letter-spacing:.62px;">Authentication time {kevin} (Secs)</div>
<div class="t r" style="left:820px;top:499.8px;width:45.5px;">0.047</div>
<svg style="left:477.9px;top:527px" width="10" height="10" viewBox="0 0 10 10"><rect x="0" y="0" width="10" height="10" rx="1" fill="#1f8a1f"/><rect x="0.5" y="0.5" width="9" height="9" rx="1" fill="none" stroke="#0e5e0e" stroke-width=".8"/><path d="M2.2,5 L4.2,7.4 L7.8,2.2" fill="none" stroke="#fff" stroke-width="1.7"/></svg>
<div class="t" style="left:493.7px;top:527.8px;letter-spacing:.62px;">Total disconnected sessions (Number)</div>
<div class="t r" style="left:820px;top:527px;width:45.5px;">0</div>
<svg style="left:740px;top:436px" width="95" height="112" viewBox="740 436 95 112"><g fill="none" stroke-width="1"><path d="M746,451.4H826.7" stroke="#a87028"/><path d="M746,471.4H826.7" stroke="#a87028"/><path d="M746,491.3H826.7" stroke="#a87028"/><path d="M746,509.8 L753.5,500 L760.5,509.8 L770,509.5 L780,509.2 L795,509.0 L810,509.6 L826.7,509.5" stroke="#b88038"/><path d="M746,539H826.7" stroke="#dca860"/></g></svg>
<div class="th" style="left:78px;top:574px;width:376.5px;height:14.2px;"></div>
<div class="vl" style="left:166px;top:574px;width:1px;height:108px;"></div>
<div class="vl" style="left:287px;top:574px;width:1px;height:108px;"></div>
<div class="vl" style="left:360px;top:574px;width:1px;height:108px;"></div>
<div class="b" style="left:81.7px;top:575.6px;font-size:8.3px;">Applications</div>
<div class="b" style="left:169.6px;top:575.6px;font-size:8.3px;">Instances(Number)</div>
<div class="b" style="left:290.7px;top:575.6px;font-size:8.3px;">%CPU(%)</div>
<div class="b" style="left:362.8px;top:575.6px;font-size:8.3px;">%Memory(%)</div>
<svg style="left:150.8px;top:578.6px" width="8" height="6" viewBox="0 0 8 6"><path d="M0.5,5.5 L4,0.5 L7.5,5.5Z" fill="#484848"/></svg>
<div style="left:78.3px;top:588px;width:376px;height:94.4px;overflow:hidden;">
<div class="t" style="left:3.4px;top:3px;">cmd.exe</div>
<div class="t" style="left:91.3px;top:3px;">1</div>
<div class="t" style="left:212.4px;top:3px;">0</div>
<div class="t" style="left:284.5px;top:3px;">0.12</div>
<div class="hl" style="left:0;top:15.4px;width:376px;"></div>
<div class="t" style="left:3.4px;top:17px;">explorer.exe</div>
<div class="t" style="left:91.3px;top:17px;">1</div>
<div class="t" style="left:212.4px;top:17px;">0</div>
<div class="t" style="left:284.5px;top:17px;">0.49</div>
<div class="hl" style="left:0;top:29.4px;width:376px;"></div>
<div class="t" style="left:3.4px;top:31.1px;">icabar.exe</div>
<div class="t" style="left:91.3px;top:31.1px;">1</div>
<div class="t" style="left:212.4px;top:31.1px;">0</div>
<div class="t" style="left:284.5px;top:31.1px;">0.46</div>
<div class="hl" style="left:0;top:43.5px;width:376px;"></div>
<div class="t" style="left:3.4px;top:45.3px;">java.exe</div>
<div class="t" style="left:91.3px;top:45.3px;">1</div>
<div class="t" style="left:212.4px;top:45.3px;">30.36</div>
<div class="t" style="left:284.5px;top:45.3px;">0.54</div>
<div class="hl" style="left:0;top:57.7px;width:376px;"></div>
<div class="t" style="left:3.4px;top:59.6px;">pnagent.exe</div>
<div class="t" style="left:91.3px;top:59.6px;">1</div>
<div class="t" style="left:212.4px;top:59.6px;">0</div>
<div class="t" style="left:284.5px;top:59.6px;">0.22</div>
<div class="hl" style="left:0;top:72px;width:376px;"></div>
<div class="t" style="left:3.4px;top:73.8px;">ssonsvr.exe</div>
<div class="t" style="left:91.3px;top:73.8px;">1</div>
<div class="t" style="left:212.4px;top:73.8px;">0</div>
<div class="t" style="left:284.5px;top:73.8px;">0.17</div>
<div class="hl" style="left:0;top:86.2px;width:376px;"></div>
<div class="t" style="left:3.4px;top:87.9px;">vmwaretray.exe</div>
<div class="t" style="left:91.3px;top:87.9px;">1</div>
<div class="t" style="left:212.4px;top:87.9px;">0</div>
<div class="t" style="left:284.5px;top:87.9px;">0.24</div>
<div class="hl" style="left:0;top:100.3px;width:376px;"></div>
</div>
<div style="left:454.5px;top:574px;width:14.5px;height:108px;background:#f6f6f6;"></div>
<svg style="left:455.6px;top:574.7px" width="12" height="12.3" viewBox="0 0 12 12" preserveAspectRatio="none"><rect x="0.5" y="0.5" width="11" height="11" rx="1.5" fill="#c6d3f7" stroke="#b0bfe8"/><path d="M3,7.4 L6,4.4 L9,7.4" fill="none" stroke="#4d6185" stroke-width="2"/></svg>
<div style="left:455.6px;top:588.6px;width:12px;height:59.6px;background:#c3d1f6;border:1px solid #b2c0ea;border-radius:1.5px;box-shadow:inset 0 0 0 1px rgba(255,255,255,.45);"></div>
<div style="left:459.1px;top:615.9px;width:5px;height:1px;background:#eef2ff;"></div>
<div style="left:459.1px;top:617.9px;width:5px;height:1px;background:#eef2ff;"></div>
<div style="left:459.1px;top:619.9px;width:5px;height:1px;background:#eef2ff;"></div>
<svg style="left:455.6px;top:669.6px" width="12" height="12" viewBox="0 0 12 12" preserveAspectRatio="none"><rect x="0.5" y="0.5" width="11" height="11" rx="1.5" fill="#c6d3f7" stroke="#b0bfe8"/><path d="M3,4.4 L6,7.4 L9,4.4" fill="none" stroke="#4d6185" stroke-width="2"/></svg>
<div class="t" style="left:476.6px;top:579.5px;">Active sessions</div>
<div class="t c" style="left:732.7px;top:579.7px;width:20px;letter-spacing:0;">1</div>
<div class="t" style="left:476.6px;top:601.1px;">Connected sessions</div>
<div class="t c" style="left:732.7px;top:601.3px;width:20px;letter-spacing:0;">0</div>
<div class="t" style="left:476.6px;top:622.2px;">Disconnected sessions</div>
<div class="t c" style="left:732.7px;top:622.4px;width:20px;letter-spacing:0;">0</div>
<div class="t" style="left:476.6px;top:644.5px;">Idle sessions</div>
<div class="t c" style="left:732.7px;top:644.7px;width:20px;letter-spacing:0;">2</div>
<div class="t" style="left:476.6px;top:666.3px;">Listen sessions</div>
<div class="t c" style="left:732.7px;top:666.5px;width:20px;letter-spacing:0;">1</div>
<svg style="left:628px;top:575px" width="86" height="100" viewBox="628 575 86 100"><g fill="none" stroke-width="1"><path d="M630.2,579.8H710.4" stroke="#dca860"/><path d="M630.2,611.1H710.4" stroke="#a87028"/><path d="M630.2,633.3H710.4" stroke="#a87028"/><path d="M630.2,646.3H710.4" stroke="#a87028"/><path d="M630.2,666.4H710.4" stroke="#dca860"/></g></svg>
<div style="left:852.4px;top:574px;width:14.6px;height:108px;background:#f6f6f6;"></div>
<svg style="left:853px;top:575.4px" width="12.2" height="12" viewBox="0 0 12 12" preserveAspectRatio="none"><rect x="0.5" y="0.5" width="11" height="11" rx="1.5" fill="#c6d3f7" stroke="#b0bfe8"/><path d="M3,7.4 L6,4.4 L9,7.4" fill="none" stroke="#4d6185" stroke-width="2"/></svg>
<div style="left:853px;top:588.5px;width:12.2px;height:65.6px;background:#c3d1f6;border:1px solid #b2c0ea;border-radius:1.5px;box-shadow:inset 0 0 0 1px rgba(255,255,255,.45);"></div>
<div style="left:856.6px;top:618.8px;width:5px;height:1px;background:#eef2ff;"></div>
<div style="left:856.6px;top:620.8px;width:5px;height:1px;background:#eef2ff;"></div>
<div style="left:856.6px;top:622.8px;width:5px;height:1px;background:#eef2ff;"></div>
<svg style="left:853px;top:669px" width="12.2" height="12.4" viewBox="0 0 12 12" preserveAspectRatio="none"><rect x="0.5" y="0.5" width="11" height="11" rx="1.5" fill="#c6d3f7" stroke="#b0bfe8"/><path d="M3,4.4 L6,7.4 L9,4.4" fill="none" stroke="#4d6185" stroke-width="2"/></svg>
<div class="th" style="left:78px;top:705px;width:391px;height:14.4px;"></div>
<div class="vl" style="left:145px;top:705px;width:1px;height:42.8px;"></div>
<div class="vl" style="left:281px;top:705px;width:1px;height:42.8px;"></div>
<div class="vl" style="left:363px;top:705px;width:1px;height:42.8px;"></div>
<div class="b" style="left:83px;top:707px;font-size:8.3px;">Process</div>
<div class="b" style="left:148px;top:707px;font-size:8.3px;">Instances(Number)</div>
<div class="b" style="left:285px;top:707px;font-size:8.3px;">%CPU(%)</div>
<div class="b" style="left:366.3px;top:707px;font-size:8.3px;">%Memory(%)</div>
<svg style="left:130.5px;top:710px" width="8" height="6" viewBox="0 0 8 6"><path d="M0.5,5.5 L4,0.5 L7.5,5.5Z" fill="#484848"/></svg>
<div class="t" style="left:83px;top:721.9px;">ImaServer</div>
<div class="t" style="left:148px;top:721.9px;">1</div>
<div class="t" style="left:285px;top:721.9px;">0.81</div>
<div class="t" style="left:366.3px;top:721.9px;">1.35</div>
<div class="hl" style="left:78px;top:733.5px;width:391px;height:1px;"></div>
<div class="t" style="left:83px;top:735.9px;">Spooler</div>
<div class="t" style="left:148px;top:735.9px;">1</div>
<div class="t" style="left:285px;top:735.9px;">0</div>
<div class="t" style="left:366.3px;top:735.9px;">0.35</div>
<div class="hl" style="left:78px;top:747.5px;width:391px;height:1px;"></div>
<div class="th" style="left:475px;top:705px;width:392px;height:24px;"></div>
<div class="vl" style="left:517px;top:705px;width:1px;height:38.6px;"></div>
<div class="vl" style="left:579px;top:705px;width:1px;height:38.6px;"></div>
<div class="vl" style="left:693px;top:705px;width:1px;height:38.6px;"></div>
<div class="vl" style="left:772px;top:705px;width:1px;height:38.6px;"></div>
<div class="b" style="left:477.7px;top:712.2px;font-size:8.3px;">Users</div>
<svg style="left:503.5px;top:715px" width="8" height="6" viewBox="0 0 8 6"><path d="M0.5,5.5 L4,0.5 L7.5,5.5Z" fill="#484848"/></svg>
<div class="b" style="left:519.8px;top:707.2px;font-size:8.3px;">Profile</div>
<div class="b" style="left:519.8px;top:716.9px;font-size:8.3px;">size(GB)</div>
<div class="b" style="left:581.4px;top:707.2px;font-size:8.3px;">Profile exceeding</div>
<div class="b" style="left:581.4px;top:716.9px;font-size:8.3px;">quota?(Boolean)</div>
<div class="b" style="left:695.6px;top:707.2px;font-size:8.3px;">No of files</div>
<div class="b" style="left:695.6px;top:716.9px;font-size:8.3px;">(Number)</div>
<div class="b" style="left:775.3px;top:707.2px;font-size:8.3px;">No of large</div>
<div class="b" style="left:775.3px;top:716.9px;font-size:8.3px;">files(Number)</div>
<div class="t" style="left:477.7px;top:731.6px;">kevin</div>
<div class="t" style="left:519.8px;top:731.6px;">0.0</div>
<div class="t" style="left:581.4px;top:731.6px;">No</div>
<div class="t" style="left:695.6px;top:731.6px;">3</div>
<div class="t" style="left:775.3px;top:731.6px;">0</div>
<div class="hl" style="left:475px;top:743px;width:392px;height:1px;"></div>
<div style="left:54.3px;top:832.5px;width:843.7px;height:17px;background:linear-gradient(#2c2c2c,#454545 50%,#707070);border-radius:0 0 4px 4px;"></div>
<div class="t" style="left:60.7px;top:835.2px;color:#e4e4e4;font-size:8.6px;letter-spacing:.6px;">© 2010&nbsp;<b style="color:#fff;letter-spacing:.8px">eG Innovations, Inc.</b> All rights reserved.</div>
<div class="t" style="left:425.5px;top:835.2px;color:#e4e4e4;font-size:8.6px;letter-spacing:.75px;">Powered by <b style="color:#fff;letter-spacing:-.1px">eG Enterprise</b>&nbsp; - v 5.2.0</div>
<div style="left:823px;top:836px;width:10px;height:10px;background:#c80000;border:1px solid #fff;"></div>
<div style="left:837.5px;top:836px;width:10px;height:10px;background:#f08848;border:1px solid #fff;"></div>
<div style="left:852px;top:836px;width:10px;height:10px;background:#f6a4a4;border:1px solid #fff;"></div>
<div style="left:866.5px;top:836px;width:10px;height:10px;background:#000090;border:1px solid #fff;"></div>
<div style="left:881px;top:836px;width:10px;height:10px;background:#008000;border:1px solid #fff;"></div>
<div style="left:0px;top:1272px;width:942px;height:3px;background:#365f91;"></div>
</div></body></html>
